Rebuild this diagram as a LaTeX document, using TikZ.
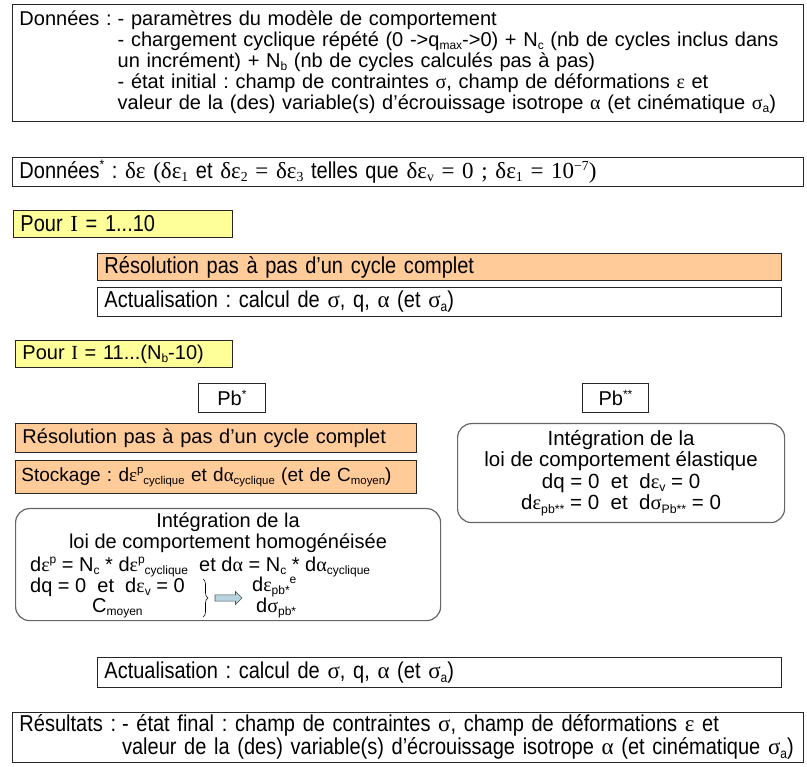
\documentclass[tikz,border=0pt]{standalone}
\usepackage{fontspec}
\setmainfont{Liberation Sans}
\newfontfamily\etroite[FakeStretch=0.87]{Liberation Sans}
\newfontfamily\grec{Liberation Serif}
\usetikzlibrary{shapes.arrows,decorations.pathreplacing}
\definecolor{jaunepale}{HTML}{FFFF99}
\definecolor{peche}{HTML}{FFCC99}
\definecolor{bleufleche}{HTML}{B7D3DF}
\definecolor{grisbord}{HTML}{666666}
\frenchspacing
\newcommand\gr[1]{{\grec #1}}
\newcommand\bas[1]{\raisebox{-0.3ex}{\scalebox{0.6}{#1}}}
\newcommand\haut[1]{\raisebox{0.75ex}{\scalebox{0.6}{#1}}}
\tikzset{
  cadre/.style={draw=black!85, line width=0.9pt, anchor=north west, inner xsep=7pt, inner ysep=0pt,
    align=left, font=\fontsize{20}{21}\selectfont},
  etroit/.style={font=\etroite\fontsize{23}{21}\selectfont},
  jaune/.style={fill=jaunepale},
  orange/.style={fill=peche},
  arrondi/.style={draw=grisbord, line width=1.2pt, rounded corners=14pt, anchor=north west, inner sep=0pt,
    font=\fontsize{20.5}{21.5}\selectfont},
  texte/.style={inner sep=0pt, font=\fontsize{20}{21}\selectfont},
  fleche/.style={single arrow, draw=black!70, fill=bleufleche, line width=0.6pt, inner sep=2.4pt,
    minimum width=13pt, minimum height=27pt, single arrow head extend=3pt},
  accolade/.style={decorate, decoration={brace, amplitude=5pt}, line width=0.6pt}
}
\begin{document}
\begin{tikzpicture}[x=1pt, y=-1pt]
  \useasboundingbox (0,0) rectangle (807,767);
  \node[cadre, text width=777pt, minimum height=117pt] (donnees) at (12,4)
    {\begin{tabular}{@{}l@{\hspace{6pt}}l@{}}
      Données : & - paramètres du modèle de comportement\\
      & - chargement cyclique répété (0 ->q\bas{max}->0) + N\bas{c} (nb de cycles inclus dans\\
      & un incrément) + N\bas{b} (nb de cycles calculés pas à pas)\\
      & - état initial : champ de contraintes \gr{σ}, champ de déformations \gr{ε} et\\
      & valeur de la (des) variable(s) d’écrouissage isotrope \gr{α} (et cinématique \gr{σ}\bas{a})
    \end{tabular}};
  \node[cadre, etroit, text width=777pt, minimum height=29pt] (donneesb) at (12,157)
    {Données\haut{*} : \gr{δε (δε\bas{1}} et \gr{δε\bas{2} = δε\bas{3}} telles que
     \gr{δε\bas{v} = 0 ; δε\bas{1} = 10\haut{−7})}};
  \node[cadre, etroit, jaune, text width=205pt, minimum height=27pt] (pour1) at (13,210)
    {Pour \gr{I} = 1...10};
  \node[cadre, etroit, orange, text width=670pt, minimum height=27pt] (resol1) at (97,253)
    {Résolution pas à pas d’un cycle complet};
  \node[cadre, etroit, text width=670pt, minimum height=29pt] (actu1) at (97,287)
    {Actualisation : calcul de \gr{σ}, q, \gr{α} (et \gr{σ}\bas{a})};
  \node[cadre, jaune, text width=203pt, minimum height=27pt] (pour2) at (15,340)
    {Pour \gr{I} = 11...(N\bas{b}-10)};
  \node[cadre, align=center, text width=53pt, minimum height=29pt] (pbun) at (198,383)
    {Pb\haut{*}};
  \node[cadre, align=center, text width=52pt, minimum height=29pt] (pbdeux) at (582,383)
    {Pb\haut{**}};
  \node[cadre, orange, text width=387pt, minimum height=29pt] (resol2) at (15,423)
    {Résolution pas à pas d’un cycle complet};
  \node[cadre, orange, inner xsep=6pt, text width=389pt, minimum height=33pt,
    font=\fontsize{19}{21}\selectfont] (stock) at (15,460)
    {Stockage : d\gr{ε}\haut{p}\bas{cyclique} et d\gr{α}\bas{cyclique} (et de C\bas{moyen})};
  \node[arrondi, minimum width=425pt, minimum height=112pt] (integA) at (15,508) {};
  \node[texte, align=center] (titreA) at (228,533)
    {Intégration de la\\loi de comportement homogénéisée};
  \node[texte, anchor=west] (ligneA) at (30,567)
    {d\gr{ε}\haut{p} = N\bas{c} * d\gr{ε}\haut{p}\bas{cyclique}\ \ et d\gr{α} = N\bas{c} * d\gr{α}\bas{cyclique}};
  \node[texte, anchor=west] (ligneB) at (30,587)
    {dq = 0\ \ et\ \ d\gr{ε}\bas{v} = 0};
  \node[texte, anchor=west] (cmoy) at (92,608) {C\bas{moyen}};
  \coordinate (acchaut) at (203,579);
  \coordinate (accbas) at (203,617);
  \draw[accolade] (acchaut) -- (accbas);
  \node[fleche] (fl) at (227,598) {};
  \node[texte, anchor=west] (depsA) at (252,587) {d\gr{ε}\bas{pb*}\haut{e}};
  \node[texte, anchor=west] (dsigA) at (256,608) {d\gr{σ}\bas{pb*}};
  \node[arrondi, align=center, minimum width=327pt, minimum height=99pt] (integB) at (457,423)
    {Intégration de la\\loi de comportement élastique\\dq = 0\ \ et\ \ d\gr{ε}\bas{v} = 0\\
     d\gr{ε}\bas{pb**} = 0\ \ et\ \ d\gr{σ}\bas{Pb**} = 0};
  \node[cadre, etroit, text width=670pt, minimum height=30pt] (actu2) at (97,657)
    {Actualisation : calcul de \gr{σ}, q, \gr{α} (et \gr{σ}\bas{a})};
  \node[cadre, etroit, text width=777pt, minimum height=50pt] (resultats) at (12,712)
    {\begin{tabular}{@{}l@{\hspace{6pt}}l@{}}
      Résultats : & - état final : champ de contraintes \gr{σ}, champ de déformations \gr{ε} et\\
      & valeur de la (des) variable(s) d’écrouissage isotrope \gr{α} (et cinématique \gr{σ}\bas{a})
    \end{tabular}};
\end{tikzpicture}
\end{document}
